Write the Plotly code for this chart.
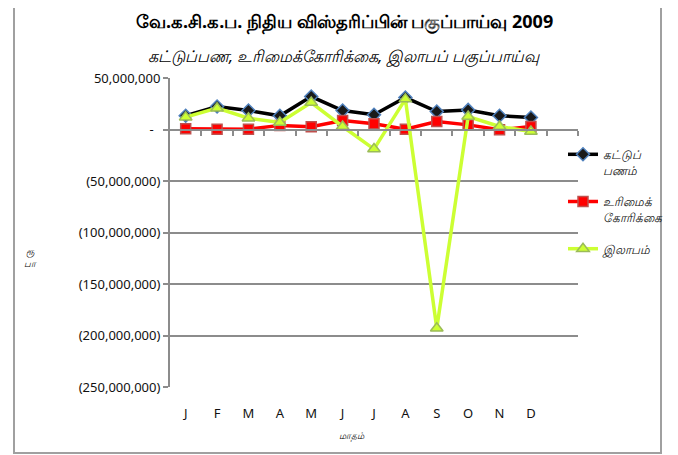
import plotly.graph_objects as go

months = ["J", "F", "M", "A", "M", "J", "J", "A", "S", "O", "N", "D"]
deposits = [13.3e6, 22.3e6, 18.4e6, 13.3e6, 32.0e6, 18.4e6, 14.3e6, 31.0e6, 17.5e6, 19.0e6, 13.3e6, 11.7e6]
claims = [0.7e6, 0.3e6, 0.3e6, 4.0e6, 2.6e6, 8.7e6, 5.5e6, 0.2e6, 7.8e6, 4.5e6, -0.3e6, 3.0e6]
profit = [12.0e6, 20.7e6, 11.0e6, 6.8e6, 26.2e6, 2.9e6, -19.0e6, 29.5e6, -193.0e6, 12.6e6, 2.9e6, -2.0e6]

ytickvals = [50e6, 0, -50e6, -100e6, -150e6, -200e6, -250e6]
yticktext = ["50,000,000", "-\u00a0\u00a0", "(50,000,000)", "(100,000,000)",
             "(150,000,000)", "(200,000,000)", "(250,000,000)"]

names = ["<i>கட்டுப்<br>பணம்</i>", "<i>உரிமைக்<br>கோரிக்கை</i>", "<i>இலாபம்</i>"]

xs = list(range(len(months)))

# page body adds an 8px offset
OFF = 8
W, H = 678 - OFF, 455 - OFF
PL, PR, PT, PB = 170, 578, 78, 387   # target plot area in screenshot pixels
L, T = PL - OFF, PT - OFF
R = W - (PR - OFF)
B = H - (PB - OFF)
pw, ph = PR - PL, PB - PT


def px(x):
    return (x - PL) / pw


def py(y):
    return (PB - y) / ph


fig = go.Figure()
fig.add_trace(go.Scatter(
    x=xs, y=deposits, name=names[0], mode="lines+markers",
    line=dict(color="#000000", width=3.5),
    marker=dict(symbol="diamond", size=10, color="#1a1a1a", line=dict(color="#4F81BD", width=1.5)),
    legendgroup="a"))
fig.add_trace(go.Scatter(
    x=xs, y=claims, name=names[1], mode="lines+markers",
    line=dict(color="#FF0000", width=3.5),
    marker=dict(symbol="square", size=10, color="#FF0000", line=dict(color="#C0504D", width=1.5)),
    legendgroup="b"))
fig.add_trace(go.Scatter(
    x=xs, y=profit, name=names[2], mode="lines+markers",
    line=dict(color="#CCFF33", width=3.5),
    marker=dict(symbol="triangle-up", size=11, color="#CCFF33", line=dict(color="#9BBB59", width=1.5)),
    legendgroup="c"))

ymin, ymax = -250e6, 50e6
zero_pos = (0 - ymin) / (ymax - ymin)

fig.update_layout(
    width=W, height=H,
    margin=dict(l=L, r=R, t=T, b=B, autoexpand=False),
    paper_bgcolor="white", plot_bgcolor="white",
    font=dict(family="Noto Sans, DejaVu Sans, sans-serif", color="#222"),
    xaxis=dict(range=[-0.5, 12.5], tickvals=xs, ticktext=months, showgrid=False,
               zeroline=False, showline=False, ticks="", ticklabelstandoff=17,
               tickfont=dict(size=13, color="#111"), automargin=False),
    xaxis2=dict(overlaying="x", anchor="free", position=zero_pos, range=[-0.5, 12.5],
                tickvals=[i + 0.5 for i in range(13)], showticklabels=False,
                ticks="outside", ticklen=5, tickwidth=2, tickcolor="#8c8c8c",
                showline=True, linecolor="#8c8c8c", linewidth=2, showgrid=False, zeroline=False),
    yaxis=dict(range=[ymin, ymax], tickvals=ytickvals, ticktext=yticktext,
               showgrid=True, gridcolor="#8c8c8c", gridwidth=2, zeroline=False,
               showline=True, linecolor="#8c8c8c", linewidth=2,
               ticks="outside", ticklen=5, tickwidth=2, tickcolor="#8c8c8c",
               tickfont=dict(size=13, color="#111"), automargin=False),
    showlegend=True,
    legend=dict(x=px(563), y=py(140), xanchor="left", yanchor="top", valign="top",
                bgcolor="rgba(255,255,255,0)", font=dict(size=12, color="#111"),
                traceorder="grouped", tracegroupgap=13, itemwidth=30),
)

# dummy trace to activate xaxis2
fig.add_trace(go.Scatter(x=[None], y=[None], xaxis="x2", showlegend=False, hoverinfo="skip"))

fig.add_annotation(text="<b>வே.க.சி.க.ப. நிதிய விஸ்தரிப்பின் பகுப்பாய்வு 2009</b>",
                   xref="paper", yref="paper", x=px(344), y=py(22),
                   showarrow=False, font=dict(size=18, color="#000"), xanchor="center", yanchor="middle")
fig.add_annotation(text="<i>கட்டுப்பண, உரிமைக்கோரிக்கை, இலாபப் பகுப்பாய்வு</i>",
                   xref="paper", yref="paper", x=px(344), y=py(56),
                   showarrow=False, font=dict(size=16, color="#000"), xanchor="center", yanchor="middle")
fig.add_annotation(text="<i>மாதம்</i>", xref="paper", yref="paper",
                   x=px(352), y=py(435), showarrow=False,
                   font=dict(size=9, color="#000"), xanchor="center", yanchor="middle")
fig.add_annotation(text="<i>ரூ<br>பா</i>", xref="paper", yref="paper",
                   x=px(30), y=py(257), showarrow=False,
                   font=dict(size=9, color="#000"), xanchor="center", yanchor="middle")

fig.add_shape(type="rect", xref="paper", yref="paper",
              x0=px(14), x1=px(661), y0=py(453), y1=py(-5),
              line=dict(color="#a0a0a0", width=2), fillcolor="rgba(0,0,0,0)", layer="below")

fig.write_html("out.html")
